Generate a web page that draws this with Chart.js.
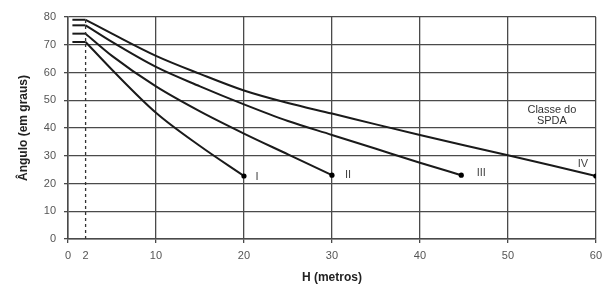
<!DOCTYPE html>
<html>
<head>
<meta charset="utf-8">
<script src="https://cdn.jsdelivr.net/npm/chart.js@4.4.1/dist/chart.umd.min.js"></script>
<style>
  html, body { margin: 0; padding: 0; background: #fff; }
  #wrap { width: 608px; height: 293px; }
</style>
</head>
<body>
<div id="wrap"><canvas id="grafico"></canvas></div>
<script>
// Classes do SPDA
const classes = ["I", "II", "III", "IV"];

// H (metros) e ângulo (graus), um par de listas por classe
const hI = [2, 5, 10, 15, 20];
const angI = [71, 61, 45.5, 33.5, 22.7];

const hII = [2, 5, 10, 15, 20, 25, 30];
const angII = [74, 66, 55, 46, 38, 30.5, 23];

const hIII = [2, 5, 10, 15, 20, 25, 30, 35, 40, 44.7];
const angIII = [77, 71, 62, 55, 48.5, 42.5, 37.5, 32.5, 27.5, 23];

const hIV = [2, 5, 10, 15, 20, 25, 30, 35, 40, 45, 50, 55, 60];
const angIV = [79, 74, 66, 59.5, 53.5, 49, 45.2, 41.3, 37.5, 33.8, 30.2, 26.5, 22.7];

// trecho horizontal no inicio de cada curva (de hInicio ate 2 m)
const hInicio = 0.5;

// eixos
const xTicks = [0, 2, 10, 20, 30, 40, 50, 60];
const yTicks = [0, 10, 20, 30, 40, 50, 60, 70, 80];
const hLimite = 2; // linha tracejada

const todosH = [hI, hII, hIII, hIV];
const todosAng = [angI, angII, angIII, angIV];

const toPts = (xs, ys) => xs.map((x, i) => ({ x: x, y: ys[i] }));

const datasets = [];
// linha tracejada em H = 2
datasets.push({
    data: [{ x: hLimite, y: yTicks[0] }, { x: hLimite, y: yTicks[yTicks.length - 1] }],
    borderColor: "#333",
    borderWidth: 1.3,
    borderDash: [3, 3],
    pointRadius: 0
});
todosH.forEach((hs, k) => {
    const ang = todosAng[k];
    // trecho horizontal
    datasets.push({
        data: [{ x: hInicio, y: ang[0] }, { x: hs[0], y: ang[0] }],
        borderColor: "#1a1a1a",
        borderWidth: 2,
        pointRadius: 0
    });
    // curva
    datasets.push({
        data: toPts(hs, ang),
        borderColor: "#1a1a1a",
        borderWidth: 2,
        cubicInterpolationMode: "monotone",
        pointRadius: ctx => (ctx.dataIndex === hs.length - 1 ? 2.6 : 0),
        pointBackgroundColor: "#000",
        pointBorderWidth: 0
    });
});

// rotulos I..IV e "Classe do SPDA"
const rotulos = {
    id: "rotulos",
    afterDatasetsDraw(chart) {
        const { ctx, scales } = chart;
        const sx = scales.x, sy = scales.y;
        const desloc = [[13, 1], [16, 0], [20, -2], [-13, -12]];
        ctx.save();
        ctx.font = "11px 'Liberation Sans', Arial, sans-serif";
        ctx.fillStyle = "#444";
        ctx.textAlign = "center";
        ctx.textBaseline = "middle";
        classes.forEach((c, k) => {
            const hs = todosH[k], ang = todosAng[k];
            const px = sx.getPixelForValue(hs[hs.length - 1]);
            const py = sy.getPixelForValue(ang[ang.length - 1]);
            ctx.fillText(c, px + desloc[k][0], py + desloc[k][1]);
        });
        ctx.fillStyle = "#333";
        const cx = sx.getPixelForValue(55);
        const cy = sy.getPixelForValue(45);
        ctx.fillText("Classe do", cx, cy - 4);
        ctx.fillText("SPDA", cx, cy + 7);
        ctx.restore();
    }
};

const corGrade = "#4a4a4a";

new Chart(document.getElementById("grafico"), {
    type: "line",
    data: { datasets: datasets },
    options: {
        responsive: true,
        maintainAspectRatio: false,
        animation: false,
        events: [],
        layout: { padding: { top: 17, right: 12, left: 0, bottom: 0 } },
        plugins: {
            legend: { display: false },
            tooltip: { enabled: false }
        },
        scales: {
            x: {
                type: "linear",
                min: 0,
                max: 60,
                afterBuildTicks: s => { s.ticks = xTicks.map(v => ({ value: v })); },
                afterFit: s => { s.height = 54; },
                grid: {
                    color: c => (c.tick && c.tick.value === hLimite ? "rgba(0,0,0,0)" : corGrade),
                    lineWidth: 1.3,
                    tickLength: 4
                },
                border: { color: corGrade, width: 1.5 },
                ticks: {
                    color: "#555",
                    font: { family: "'Liberation Sans', Arial, sans-serif", size: 11 },
                    padding: 6,
                    maxRotation: 0,
                    autoSkip: false
                },
                title: {
                    display: true,
                    text: "H (metros)",
                    color: "#222",
                    font: { family: "'Liberation Sans', Arial, sans-serif", size: 12, weight: "bold" },
                    padding: { top: 4, bottom: 8 }
                }
            },
            y: {
                min: 0,
                max: 80,
                afterBuildTicks: s => { s.ticks = yTicks.map(v => ({ value: v })); },
                afterFit: s => { s.width = 68; },
                grid: { color: corGrade, lineWidth: 1.3, tickLength: 4 },
                border: { color: corGrade, width: 1.5 },
                ticks: {
                    color: "#555",
                    font: { family: "'Liberation Sans', Arial, sans-serif", size: 11 },
                    padding: 8
                },
                title: {
                    display: true,
                    text: "Ângulo (em graus)",
                    color: "#222",
                    font: { family: "'Liberation Sans', Arial, sans-serif", size: 12, weight: "bold" },
                    padding: { top: 16, bottom: 4 }
                }
            }
        }
    },
    plugins: [rotulos]
});
</script>
</body>
</html>
